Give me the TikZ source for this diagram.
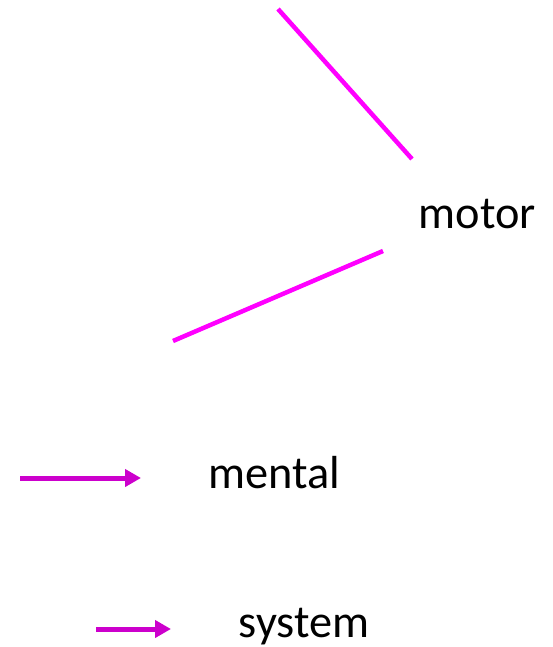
\documentclass[tikz,border=0pt]{standalone}
\usepackage{fontspec}
\setmainfont{Carlito}
\usetikzlibrary{arrows.meta}
\definecolor{linemag}{HTML}{FF00FF}
\definecolor{arrmag}{HTML}{CC00CC}
\begin{document}
\begin{tikzpicture}[x=1bp,y=-1bp,
  magline/.style={draw=linemag,line width=4.5bp},
  magarrow/.style={draw=arrmag,line width=5bp,-{Triangle[length=16bp,width=17bp]}},
  lbl/.style={font=\fontsize{46.5}{56}\selectfont,inner sep=0pt,anchor=base}]
\useasboundingbox (0,0) rectangle (553,647);
\coordinate (l1a) at (278,9);
\coordinate (l1b) at (412,159);
\coordinate (l2a) at (383,251);
\coordinate (l2b) at (173,341);
\coordinate (a1a) at (20,478);
\coordinate (a1b) at (141,478);
\coordinate (a2a) at (96,629);
\coordinate (a2b) at (171,629);
\draw[magline] (l1a) -- (l1b);
\draw[magline] (l2a) -- (l2b);
\draw[magarrow] (a1a) -- (a1b);
\draw[magarrow] (a2a) -- (a2b);
\node[lbl] (motor) at (477.5,228) {motor};
\node[lbl] (mental) at (274.5,488) {mental};
\node[lbl] (system) at (304,637) {system};
\end{tikzpicture}
\end{document}
